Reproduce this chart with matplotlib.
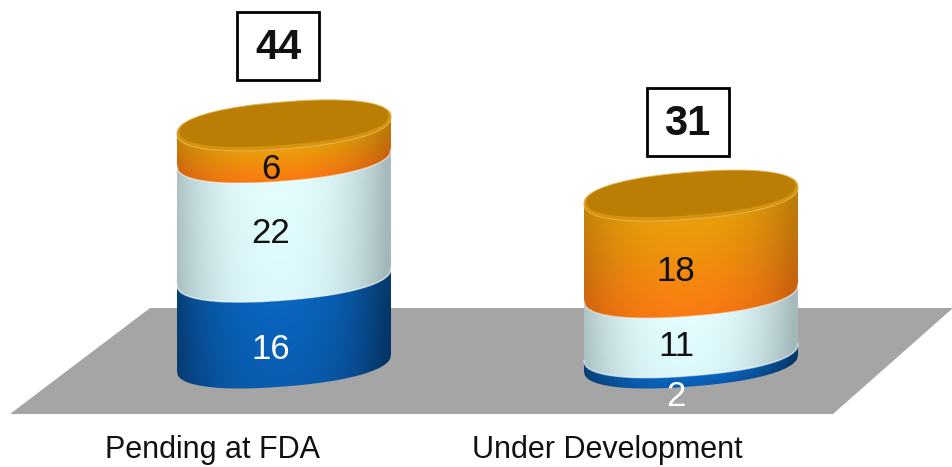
import numpy as np
import matplotlib
matplotlib.use('Agg')
import matplotlib.pyplot as plt
from matplotlib.colors import to_rgb
from matplotlib.patches import Polygon, Rectangle

plt.rcParams['font.family'] = ['Liberation Sans', 'DejaVu Sans']

categories = ['Pending at FDA', 'Under Development']
blue_vals = [16, 2]
light_vals = [22, 11]
orange_vals = [6, 18]
totals = [44, 31]

W, H = 953, 467
X0 = 284.0        # pixel x of first cylinder
CAT_PX = 407.0    # pixels between cylinders
BASE_PX = 363.0   # pixel y of value 0
UNIT_PX = 5.4     # pixels per unit
A_PX = 107.0      # ellipse half width
B_PX = 23.5       # ellipse half height
SHEAR = 0.078     # slope of the ellipses, right side up
SQUARE = 0.88     # below 1 makes the ellipses a little boxy

fig = plt.figure(figsize=(W / 100, H / 100), dpi=100, facecolor='white')

# floor and category captions live on a plain pixel axes
bg = fig.add_axes([0, 0, 1, 1])
bg.set_xlim(0, W)
bg.set_ylim(H, 0)
bg.axis('off')
bg.add_patch(Polygon([(10, 414), (833, 414), (953, 308), (150, 308)], closed=True,
                     facecolor='#a5a5a5', edgecolor='none'))
caption_x = [213, 607]
for cx, name in zip(caption_x, categories):
    bg.text(cx, 450, name, ha='center', va='center', fontsize=22, color='#111111')

ax = fig.add_axes([0, 0, 1, 1])
ax.patch.set_alpha(0)
ax.axis('off')

half_w = A_PX / CAT_PX
half_h = B_PX / UNIT_PX
slope = SHEAR * A_PX / UNIT_PX   # value units across half a width


def arc_offset(u):
    # lower edge of the ellipse relative to its centre, u in -1..1
    return -half_h * np.clip(1 - np.abs(u) ** (2 / SQUARE), 0, 1) ** (SQUARE / 2) + slope * u


def lid_outline(x, v, scale_x=1.0, scale_y=1.0, lift=0.0):
    t = np.linspace(0, 2 * np.pi, 400)
    c, s = np.cos(t), np.sin(t)
    cx = np.sign(c) * np.abs(c) ** SQUARE
    sy = np.sign(s) * np.abs(s) ** SQUARE
    return np.column_stack([x + half_w * scale_x * cx,
                            v + lift + half_h * scale_y * sy + slope * scale_x * cx])


def side_shade(u, depth):
    # horizontal falloff towards the edges of the cylinder
    f = 1 - np.abs(u + 0.05) ** 2.4
    return 1 - depth * (1 - np.clip(f, 0, 1))


def draw_segment(x, v0, v1, col_top, col_bot, depth, rim):
    xs = np.linspace(x - half_w, x + half_w, 260)
    u = (xs - x) / half_w
    low = v0 + arc_offset(u)
    up = v1 + arc_offset(u)
    poly = np.vstack([np.column_stack([xs, low]), np.column_stack([xs[::-1], up[::-1]])])
    patch = Polygon(poly, closed=True, facecolor='none', edgecolor='none')
    ax.add_patch(patch)

    vmin, vmax = low.min(), up.max()
    vs = np.linspace(vmax, vmin, 300)
    uu, vv = np.meshgrid(u, vs)
    frac = np.clip((vv - (v0 + arc_offset(uu))) / (v1 - v0), 0, 1)[..., None]
    colour = np.array(col_bot) * (1 - frac) + np.array(col_top) * frac
    img = colour * side_shade(uu, depth)[..., None]
    im = ax.imshow(np.clip(img, 0, 1), extent=[xs[0], xs[-1], vmin, vmax], aspect='auto',
                   origin='upper', interpolation='bilinear', zorder=2)
    im.set_clip_path(patch)
    # thin pale seam along the lower edge
    if rim:
        ax.plot(xs, low, color='#f4fbfc', alpha=0.55, linewidth=1.1, zorder=2.5)


for i in range(len(categories)):
    stack = [
        (blue_vals[i], '#0a66c0', '#0a5cb0', 0.42, False),
        (light_vals[i], '#e4feff', '#dcf8fb', 0.26, True),
        (orange_vals[i], '#ea9f0a', '#fb7a12', 0.2, True),
    ]
    bottom = 0
    for val, ct, cb, depth, rim in stack:
        draw_segment(i, bottom, bottom + val, to_rgb(ct), to_rgb(cb), depth, rim)
        bottom += val

    # lid of the cylinder: bevel ring and flat inner face
    ax.add_patch(Polygon(lid_outline(i, bottom), closed=True, facecolor='#d8930c',
                         edgecolor='#e2b050', linewidth=0.7, zorder=3))
    ax.add_patch(Polygon(lid_outline(i, bottom, 0.975, 0.9, 1.6 / UNIT_PX), closed=True,
                         facecolor='#ba7e05', edgecolor='none', zorder=3.1))

    # total in a black box above the cylinder
    box_dy = [79, 73.5][i] / UNIT_PX
    box_w = 82 / CAT_PX
    box_h = 68 / UNIT_PX
    bx = i + [-6, -3.5][i] / CAT_PX
    by = bottom + box_dy
    ax.add_patch(Rectangle((bx - box_w / 2, by - box_h / 2), box_w, box_h, facecolor='white',
                           edgecolor='black', linewidth=2, zorder=4))
    ax.text(bx, by - 2 / UNIT_PX, str(totals[i]), ha='center', va='center', fontsize=30,
            fontweight='bold', color='#111111', zorder=5)

# value labels sit on the front of each segment
label_dy = [[29.5, 16.5, 27.5], [38.5, 23.5, 27.5]]
label_dx = [-13, -15]
label_col = ['white', '#111111', '#111111']
for i, vals in enumerate(zip(blue_vals, light_vals, orange_vals)):
    bottom = 0
    for j, val in enumerate(vals):
        ax.text(i + label_dx[i] / CAT_PX, bottom + val / 2 - label_dy[i][j] / UNIT_PX, str(val),
                ha='center', va='center', fontsize=25, color=label_col[j], zorder=6)
        bottom += val

ax.set_xlim(-X0 / CAT_PX, (W - X0) / CAT_PX)
ax.set_ylim((BASE_PX - H) / UNIT_PX, BASE_PX / UNIT_PX)

fig.savefig('out.png', dpi=100)
